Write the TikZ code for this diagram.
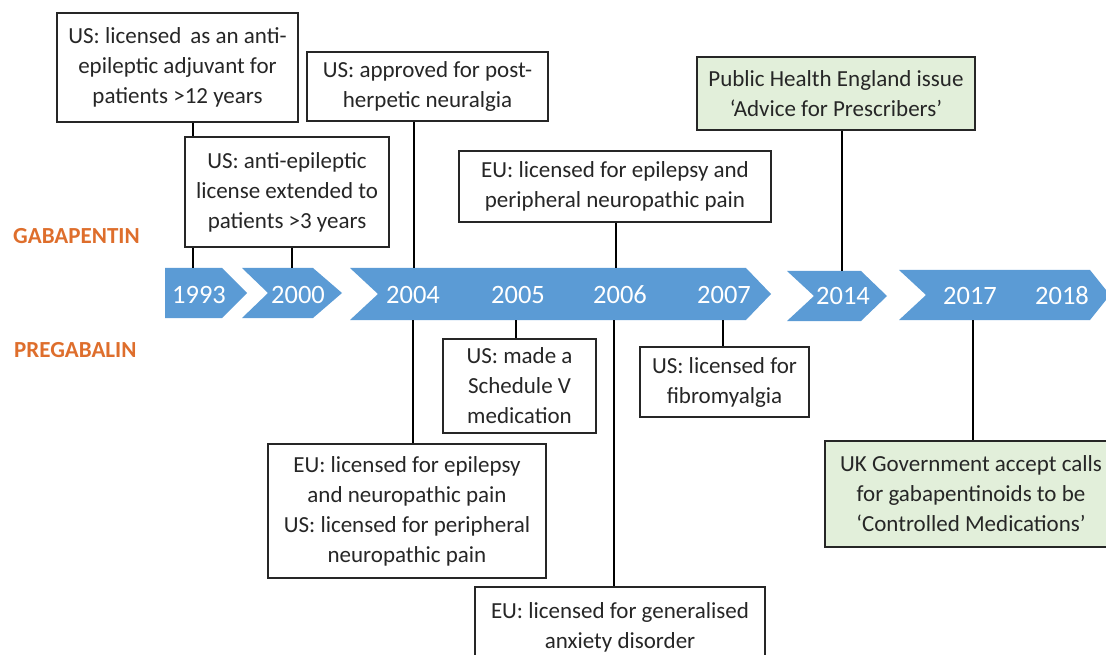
\documentclass[tikz,border=0pt]{standalone}
\usepackage{fontspec}
\setmainfont{Carlito}
\definecolor{chevblue}{RGB}{91,155,213}
\definecolor{boxgreen}{RGB}{226,239,218}
\definecolor{labelorange}{RGB}{222,110,44}
\definecolor{boxtext}{RGB}{38,38,38}
\tikzset{
  evbox/.style={draw=black!85, line width=1.2pt, fill=white, align=center, inner sep=0pt,
    font=\fontsize{23}{30}\selectfont, text=boxtext},
  greenbox/.style={evbox, fill=boxgreen},
  chev/.style={fill=chevblue, draw=none},
  yearlbl/.style={text=white, font=\fontsize{26.5}{30}\selectfont, inner sep=0pt},
  druglbl/.style={text=labelorange, font=\bfseries\fontsize{23}{26}\selectfont, anchor=west, inner sep=0pt},
  conn/.style={draw=black, line width=2pt}
}
\begin{document}
\begin{tikzpicture}[x=1pt,y=-1pt]
\useasboundingbox (0,0) rectangle (1106,655);
\clip (0,0) rectangle (1106,655);
% chevrons
\fill[chev] (165,268) -- (222,268) -- (247,293) -- (222,318) -- (165,318) -- cycle;
\fill[chev] (242,268) -- (313,268) -- (342,293) -- (313,318) -- (242,318) -- (268,293) -- cycle;
\fill[chev] (350,268) -- (746,268) -- (771,294) -- (746,320) -- (350,320) -- (378,294) -- cycle;
\fill[chev] (787,271) -- (861,271) -- (887,296) -- (861,321) -- (787,321) -- (814,296) -- cycle;
\fill[chev] (899,270) -- (1090,270) -- (1110,295) -- (1090,320) -- (899,320) -- (926,295) -- cycle;
% years
\node[yearlbl] (y1993) at (199,295) {1993};
\node[yearlbl] (y2000) at (298,295) {2000};
\node[yearlbl] (y2004) at (413,295) {2004};
\node[yearlbl] (y2005) at (518,295) {2005};
\node[yearlbl] (y2006) at (620,295) {2006};
\node[yearlbl] (y2007) at (724,295) {2007};
\node[yearlbl] (y2014) at (843,296) {2014};
\node[yearlbl] (y2017) at (970,296) {2017};
\node[yearlbl] (y2018) at (1062,296) {2018};
% drug labels
\node[druglbl] (gaba) at (13,236) {GABAPENTIN};
\node[druglbl] (prega) at (14,350) {PREGABALIN};
% connector end points on chevrons
\coordinate (t1993) at (193,268);
\coordinate (t2000) at (292,268);
\coordinate (t2004) at (414,268);
\coordinate (t2006) at (616,268);
\coordinate (t2014) at (842,271);
\coordinate (b2004) at (413,320);
\coordinate (b2005) at (516,320);
\coordinate (b2006) at (614,320);
\coordinate (b2007) at (723,320);
\coordinate (b2017) at (973,320);
% boxes
\node[evbox, minimum width=241pt, minimum height=109pt] (B1) at (177.5,67.5) {US: licensed\, as an anti-\\ epileptic adjuvant for\\ patients >12 years};
\node[evbox, minimum width=204pt, minimum height=110pt] (B2) at (287,192) {US: anti-epileptic\\ license extended to\\ patients >3 years};
\node[evbox, minimum width=241pt, minimum height=69pt] (B3) at (427.5,86.5) {US: approved for post-\\ herpetic neuralgia};
\node[evbox, minimum width=312pt, minimum height=71pt] (B4) at (615,186.5) {EU: licensed for epilepsy and\\ peripheral neuropathic pain};
\node[greenbox, minimum width=278pt, minimum height=73pt] (B5) at (836,93.5) {Public Health England issue\\ ‘Advice for Prescribers’};
\node[evbox, minimum width=153pt, minimum height=94pt] (B6) at (519.5,386) {US: made a\\ Schedule V\\ medication};
\node[evbox, minimum width=169pt, minimum height=70pt] (B7) at (724.5,382) {US: licensed for\\ fibromyalgia};
\node[evbox, minimum width=278pt, minimum height=134pt] (B8) at (407,511) {EU: licensed for epilepsy\\ and neuropathic pain\\ US: licensed for peripheral\\ neuropathic pain};
\node[evbox, minimum width=290pt, minimum height=80pt] (B9) at (620,627) {EU: licensed for generalised\\ anxiety disorder};
\node[greenbox, minimum width=292pt, minimum height=106pt] (B10) at (971,494) {UK Government accept calls\\ for gabapentinoids to be\\ ‘Controlled Medications’};
% connectors
\draw[conn] (B1.south -| t1993) -- (B2.north -| t1993);
\draw[conn] (B2.south -| t1993) -- (t1993);
\draw[conn] (B2.south -| t2000) -- (t2000);
\draw[conn] (B3.south -| t2004) -- (t2004);
\draw[conn] (B4.south -| t2006) -- (t2006);
\draw[conn] (B5.south -| t2014) -- (t2014);
\draw[conn] (b2004) -- (B8.north -| b2004);
\draw[conn] (b2005) -- (B6.north -| b2005);
\draw[conn] (b2006) -- (B9.north -| b2006);
\draw[conn] (b2007) -- (B7.north -| b2007);
\draw[conn] (b2017) -- (B10.north -| b2017);
\end{tikzpicture}
\end{document}
